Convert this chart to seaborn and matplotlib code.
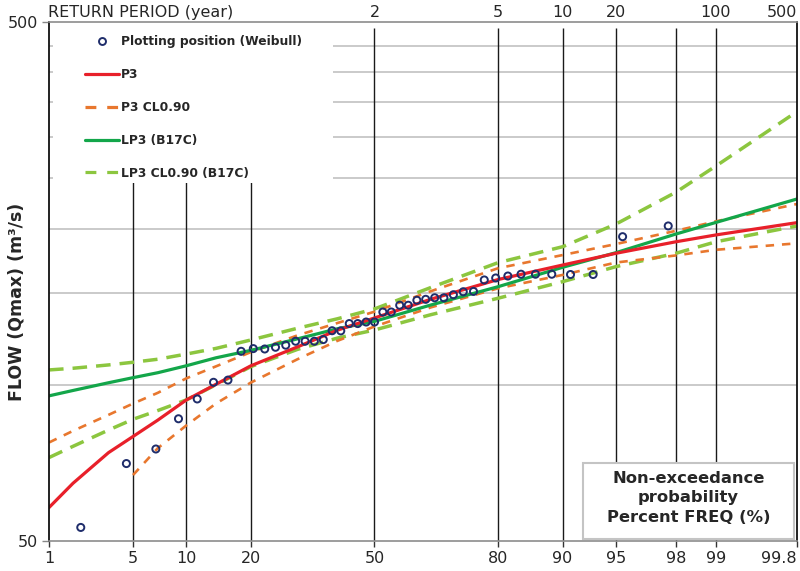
import numpy as np
import pandas as pd
import matplotlib
matplotlib.use("Agg")
import matplotlib.pyplot as plt
import matplotlib.transforms as mtransforms
from matplotlib.patches import Rectangle
from matplotlib.lines import Line2D
from matplotlib.ticker import NullLocator, FixedLocator
import seaborn as sns
from statistics import NormalDist

# ---------------- data ----------------
# Weibull plotting positions (non-exceedance %, n = 43) and observed flows
obs_prob = [2.27, 4.55, 6.82, 9.09, 11.36, 13.64, 15.91, 18.18, 20.45, 22.73,
            25.00, 27.27, 29.55, 31.82, 34.09, 36.36, 38.64, 40.91, 43.18, 45.45,
            47.73, 50.00, 52.27, 54.55, 56.82, 59.09, 61.36, 63.64, 65.91, 68.18,
            70.45, 72.73, 75.00, 77.27, 79.55, 81.82, 84.09, 86.36, 88.64, 90.91,
            93.18, 95.45, 97.73]
obs_flow = [53.1, 70.5, 75.2, 86.0, 93.9, 101.1, 102.1, 116.0, 117.4, 117.2,
            118.1, 119.2, 121.3, 121.3, 121.3, 122.2, 127.1, 127.0, 131.2, 131.2,
            132.1, 132.1, 138.1, 138.1, 142.3, 142.3, 145.5, 146.1, 147.1, 147.1,
            149.1, 151.1, 151.3, 159.2, 160.6, 162.0, 163.3, 163.3, 163.3, 163.1,
            163.1, 192.9, 202.3]

curve_prob = [1.33, 2, 3.5, 5, 7, 10, 14, 20, 30, 40, 50, 65, 80, 90, 95, 98, 99, 99.8]
p3_flow = [58.0, 64.6, 74.0, 79.5, 85.5, 93.5, 100.2, 108.8, 118.3, 127.4,
           134.5, 146.2, 159.5, 170.1, 179.2, 188.6, 194.4, 205.3]
p3_upper = [77.4, 81.5, 87.5, 92.0, 96.5, 102.9, 108.5, 115.6, 124.5, 131.5,
            138.3, 151.5, 167.7, 177.8, 186.7, 198.0, 206.5, 223.0]
p3_lower_prob = [5, 7, 10, 14, 20, 30, 40, 50, 65, 80, 90, 95, 98, 99, 99.8]
p3_lower = [67.0, 75.5, 83.5, 92.0, 101.0, 112.0, 121.5, 129.5, 141.0,
            153.4, 162.8, 172.0, 177.5, 182.0, 187.3]
lp3_flow = [95.2, 97.5, 100.9, 103.2, 105.5, 108.8, 112.7, 116.5, 122.6, 128.2,
            132.5, 142.5, 154.5, 168.4, 179.7, 195.2, 205.5, 228.0]
lp3_upper = [106.8, 107.6, 109.2, 110.5, 112.0, 114.6, 117.5, 122.0, 128.5, 134.0,
             140.0, 154.0, 171.9, 184.5, 204.0, 235.0, 264.0, 336.0]
lp3_lower = [72.4, 76.1, 81.8, 85.8, 89.2, 93.5, 100.0, 108.4, 117.0, 123.0,
             127.5, 136.5, 146.8, 158.0, 168.9, 179.2, 188.6, 202.3]

x_tick_prob = [1.33, 5, 10, 20, 50, 80, 90, 95, 98, 99, 99.8]
x_tick_labels = ["1", "5", "10", "20", "50", "80", "90", "95", "98", "99", "99.8"]
return_prob = [50, 80, 90, 95, 99, 99.8]
return_labels = ["2", "5", "10", "20", "100", "500"]
vline_prob = [5, 10, 20, 50, 80, 90, 95, 98, 99]
grid_flow = [100, 150, 200, 250, 300, 350, 400, 450]

# ---------------- style ----------------
C_PTS = "#1f2d6b"
C_P3 = "#e8202a"
C_P3CL = "#e8772e"
C_LP3 = "#13a64a"
C_LP3CL = "#8cc63f"

sns.set_style("white")
plt.rcParams["font.family"] = ["DejaVu Sans"]

ND = NormalDist()
_fwd = np.vectorize(lambda v: ND.inv_cdf(min(max(v, 1e-6), 100 - 1e-6) / 100.0), otypes=[float])
_inv = np.vectorize(lambda v: ND.cdf(v) * 100.0, otypes=[float])


def fwd(p):
    return _fwd(np.asarray(p, dtype=float))


def inv(z):
    return _inv(np.asarray(z, dtype=float))


fig = plt.figure(figsize=(8.0, 5.71), dpi=100)
ax = fig.add_axes([49 / 800, 1 - 541 / 571, 748 / 800, 519 / 571])
ax.set_xscale("function", functions=(fwd, inv))
ax.set_yscale("log")
ax.set_xlim(1.33, 99.8)
ax.set_ylim(50, 500)

# grid lines
for g in grid_flow:
    ax.axhline(g, color="#bcbcbc", lw=1.1, zorder=1)
ax.vlines(vline_prob, 50, 487, color="#1a1a1a", lw=1.0, zorder=1.5)

# curves
sns.lineplot(x=curve_prob, y=lp3_upper, ax=ax, color=C_LP3CL, lw=2.5,
             linestyle=(0, (4.2, 2.6)), zorder=3)
sns.lineplot(x=curve_prob, y=lp3_lower, ax=ax, color=C_LP3CL, lw=2.5,
             linestyle=(0, (4.2, 2.6)), zorder=3)
sns.lineplot(x=curve_prob, y=p3_upper, ax=ax, color=C_P3CL, lw=1.9,
             linestyle=(0, (3.2, 3.0)), zorder=3.2)
sns.lineplot(x=p3_lower_prob, y=p3_lower, ax=ax, color=C_P3CL, lw=1.9,
             linestyle=(0, (3.2, 3.0)), zorder=3.2)
sns.lineplot(x=curve_prob, y=lp3_flow, ax=ax, color=C_LP3, lw=2.3, zorder=3.5)
sns.lineplot(x=curve_prob, y=p3_flow, ax=ax, color=C_P3, lw=2.3, zorder=3.6)

sns.scatterplot(x=obs_prob, y=obs_flow, ax=ax, marker="o", s=26,
                edgecolor=C_PTS, linewidth=1.4, zorder=5)
ax.collections[-1].set_facecolor("none")
ax.collections[-1].set_edgecolor(C_PTS)

# white legend area (covers grid lines, as in the reference)
ax.add_patch(Rectangle((0.006, 0.69), 0.374, 0.31, transform=ax.transAxes,
                       facecolor="white", edgecolor="none", zorder=4))

handles = [
    Line2D([], [], marker="o", ls="none", mfc="none", mec=C_PTS, mew=1.4, ms=5),
    Line2D([], [], color=C_P3, lw=2.3),
    Line2D([], [], color=C_P3CL, lw=2.3, linestyle=(0, (3.4, 3.4))),
    Line2D([], [], color=C_LP3, lw=2.3),
    Line2D([], [], color=C_LP3CL, lw=2.3, linestyle=(0, (3.4, 3.4))),
]
labels = ["Plotting position (Weibull)", "P3", "P3 CL0.90", "LP3 (B17C)",
          "LP3 CL0.90 (B17C)"]
leg = ax.legend(handles, labels, loc="upper left", bbox_to_anchor=(0.048, 0.974),
                frameon=False, borderaxespad=0, borderpad=0, handlelength=2.75,
                handletextpad=0.2, labelspacing=1.62,
                prop={"weight": "bold", "size": 8.8})
leg.set_zorder(6)

# y axis
ax.yaxis.set_major_locator(FixedLocator([50, 500]))
ax.yaxis.set_minor_locator(NullLocator())
ax.set_yticklabels(["50", "500"])
ax.tick_params(axis="y", which="major", length=5, width=1, color="#888888",
               labelsize=11.5, pad=3, direction="out", left=True)
ax.set_ylabel("FLOW (Qmax) (m³/s)", fontsize=12.5, fontweight="bold")
ax.yaxis.set_label_coords(-0.031, 0.46)

# x axis
ax.xaxis.set_major_locator(FixedLocator(x_tick_prob))
ax.xaxis.set_minor_locator(NullLocator())
ax.set_xticklabels(x_tick_labels)
ax.tick_params(axis="x", which="major", length=4, width=1, color="#333333",
               labelsize=11.5, pad=3, direction="out", bottom=True)
ax.get_xticklabels()[-1].set_horizontalalignment("right")
ax.set_xlabel("")

# top return-period labels
trans = mtransforms.blended_transform_factory(ax.transData, ax.transAxes)
for p, lab in zip(return_prob, return_labels):
    ha = "right" if p == return_prob[-1] else "center"
    xx = p if ha == "center" else 99.8
    ax.text(xx, 1.019, lab, transform=trans, ha=ha, va="center", fontsize=11.5,
            clip_on=False)
fig.text(48 / 800, 1 - 12 / 571, "RETURN PERIOD (year)", ha="left", va="center",
         fontsize=11.5)

# spines
for side in ["left", "right"]:
    ax.spines[side].set_color("#111111")
    ax.spines[side].set_linewidth(1.3)
for side in ["top", "bottom"]:
    ax.spines[side].set_color("#8c8c8c")
    ax.spines[side].set_linewidth(1.2)
for s in ax.spines.values():
    s.set_zorder(7)

# bottom-right annotation box
ax.add_patch(Rectangle((0.714, 0.003), 0.282, 0.148, transform=ax.transAxes,
                       facecolor="white", edgecolor="#c4c4c4", lw=1.5, zorder=6))
ax.text(0.855, 0.083, "Non-exceedance\nprobability\nPercent FREQ (%)",
        transform=ax.transAxes, ha="center", va="center", fontsize=11.8,
        fontweight="bold", linespacing=1.38, zorder=7)

fig.savefig("out.png", dpi=100)
